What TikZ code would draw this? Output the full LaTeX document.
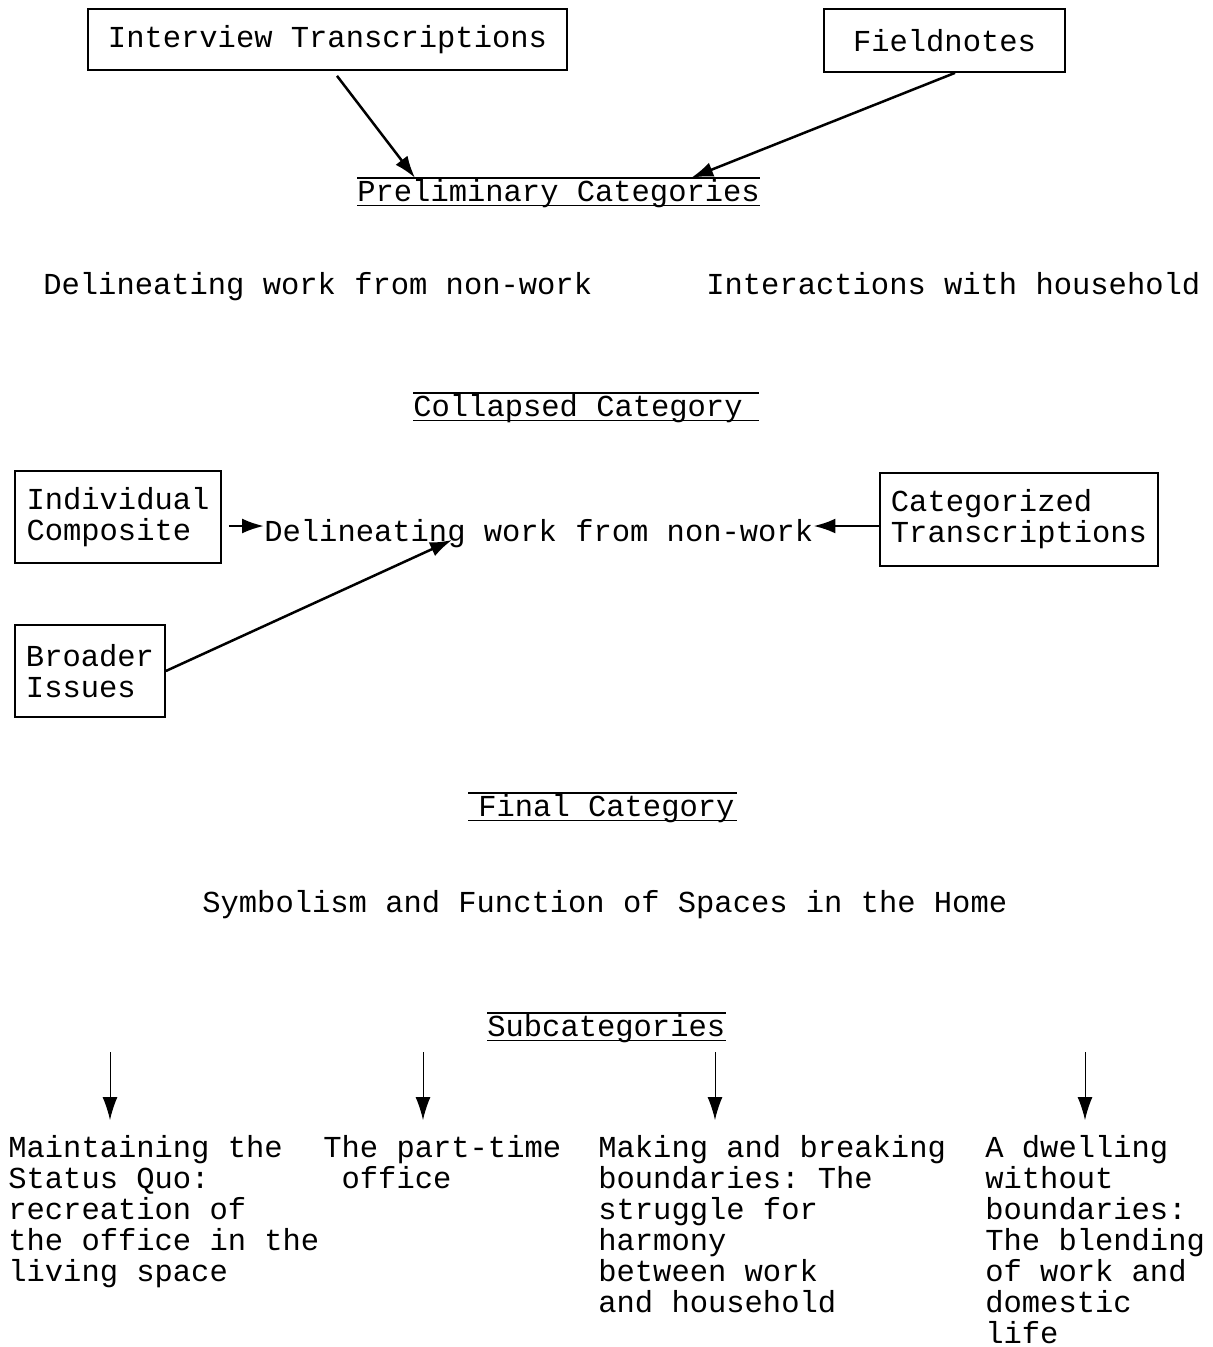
\documentclass[tikz,border=0pt]{standalone}
\usepackage{fontspec}
\setmainfont{Liberation Mono}
\usetikzlibrary{arrows.meta,calc}

\tikzset{
  box/.style={draw, line width=0.035cm, align=left, inner sep=0pt},
  plain/.style={inner sep=0pt, anchor=base west},
  heading/.style={inner sep=0pt, anchor=base west, text height=13pt, text depth=2.3pt},
  arr/.style={-{Latex[length=0.44cm,width=0.3cm]}, line width=0.05cm},
  sarr/.style={-{Latex[length=0.46cm,width=0.3cm]}, line width=0.02cm},
}

\begin{document}
\begin{tikzpicture}[x=0.02cm, y=-0.02cm, font=\fontsize{17.35}{17.6}\selectfont\frenchspacing]
\useasboundingbox (0,0) rectangle (1213,1347);

% sources
\node[box, minimum width=9.58cm, minimum height=1.22cm] (inter) at (327.5,39.5) {Interview Transcriptions};
\node[box, minimum width=4.82cm, minimum height=1.26cm] (field) at (944.5,40.5) {Fieldnotes};

% preliminary categories
\node[heading] (prel) at (357,201) {Preliminary Categories};
\node[plain] (delin) at (43,294) {Delineating work from non-work};
\node[plain] (interact) at (706,294) {Interactions with household};

% collapsed category
\node[heading] (coll) at (413,416) {Collapsed Category};
\node[box, minimum width=4.12cm, minimum height=1.84cm] (indiv) at (118,517) {Individual\\Composite};
\node[plain] (mid) at (264,541) {Delineating work from non-work};
\node[box, minimum width=5.56cm, minimum height=1.86cm] (catego) at (1019,519.5) {Categorized\\Transcriptions};
\node[box, minimum width=3cm, minimum height=1.84cm] (broad) at (90,671) {Broader\\Issues};

% final category
\node[heading] (final) at (478,816) {Final Category};
\node[plain] (symb) at (202,912) {Symbolism and Function of Spaces in the Home};

% subcategories (placed at the baseline of their last line)
\node[heading] (subc) at (487,1036) {Subcategories};
\node[plain, align=left] (sa) at (8,1281) {Maintaining the\\Status Quo:\\recreation of\\the office in the\\living space};
\node[plain, align=left] (sb) at (323,1188) {The part-time\\\hphantom{o}office};
\node[plain, align=left] (sc) at (598,1312) {Making and breaking\\boundaries: The\\struggle for\\harmony\\between work\\and household};
\node[plain, align=left] (sd) at (985,1343) {A dwelling\\without\\boundaries:\\The blending\\of work and\\domestic\\life};

% over- and underlines of the headings
\foreach \h/\l/\r in {prel/0/0, coll/0/16, final/-10/2, subc/0/0}
  \draw[line width=0.035cm] ($(\h.north west)+(\l,0)$) -- ($(\h.north east)+(\r,0)$)
    ($(\h.south west)+(\l,0)$) -- ($(\h.south east)+(\r,0)$);

% connectors
\draw[arr] ([xshift=0.19cm, yshift=-0.1cm]inter.south) -- ([xshift=1.16cm]prel.north west);
\draw[arr] ([xshift=0.21cm]field.south) -- ([xshift=-1.38cm]prel.north east);

\coordinate (row) at (0,526);
\draw[arr] ($(indiv.east |- row)+(7,0)$) -- (mid.west |- row);
\draw[arr] (catego.west |- row) -- (mid.east |- row);
\draw[arr] (broad.east) -- ($(mid.base west)+(188,-1)$);

\coordinate (tips) at (0,1120);
\foreach \n/\x in {ta/110, tb/423, tc/715, td/1085} {
  \coordinate (\n) at (\x,1052);
  \draw[sarr] (\n) -- (\n |- tips);
}
\end{tikzpicture}
\end{document}
